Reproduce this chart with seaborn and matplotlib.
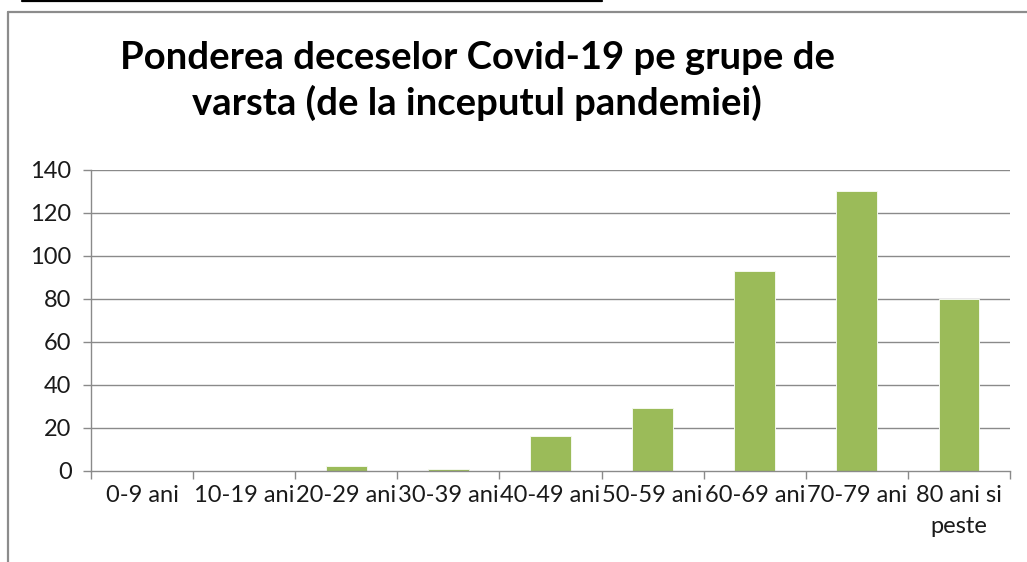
import matplotlib
matplotlib.use("Agg")
import matplotlib.pyplot as plt
from matplotlib.lines import Line2D
import seaborn as sns
import pandas as pd

categories = ["0-9 ani", "10-19 ani", "20-29 ani", "30-39 ani", "40-49 ani",
              "50-59 ani", "60-69 ani", "70-79 ani", "80 ani si\npeste"]
values = [0, 0, 2, 1, 16, 29, 93, 130, 80]
yticks = [0, 20, 40, 60, 80, 100, 120, 140]
title = "Ponderea deceselor Covid-19 pe grupe de\nvarsta (de la inceputul pandemiei)"

sns.set_theme(style="white")
plt.rcParams['font.family'] = ['Lato', 'DejaVu Sans']

W, H = 1027, 562
fig = plt.figure(figsize=(W / 100, H / 100), dpi=100)
fig.patch.set_facecolor("white")

ax = fig.add_axes([91 / W, (H - 470.7) / H, (1010 - 91) / W, 300.7 / H])
df = pd.DataFrame({"cat": categories, "val": values})
sns.barplot(data=df, x="cat", y="val", color="#9BBB59", width=0.4,
            edgecolor="#f4f8ee", linewidth=0.7, saturation=1, ax=ax, zorder=2)

ax.set_xlim(-0.5, len(categories) - 0.5)
ax.set_ylim(0, 140)
ax.set_yticks(yticks)
ax.set_yticklabels([str(v) for v in yticks], fontsize=17, color="#1a1a1a")
ax.set_xlabel("")
ax.set_ylabel("")
gc = "#8a8a8a"
for y in yticks[1:]:
    ax.axhline(y, color=gc, lw=1.0, zorder=1)
for s in ["top", "right"]:
    ax.spines[s].set_visible(False)
for s in ["left", "bottom"]:
    ax.spines[s].set_color(gc)
    ax.spines[s].set_linewidth(1.0)
    ax.spines[s].set_zorder(3)
ax.tick_params(axis="y", direction="out", length=6, width=1.0, color=gc, pad=8, left=True)
ax.set_xticks(range(len(categories)))
ax.set_xticklabels(categories, fontsize=17, color="#1a1a1a", linespacing=1.6,
                   va="top", ha="center")
ax.tick_params(axis="x", which="major", length=0, pad=10, bottom=True)
ax.set_xticks([i - 0.5 for i in range(len(categories) + 1)], minor=True)
ax.tick_params(axis="x", which="minor", direction="out", length=6, width=1.0, color=gc, bottom=True)

fig.text(477 / W, 1 - 41 / H, title, ha="center", va="top", fontsize=27.5,
         fontweight="bold", color="black", linespacing=1.32)

# chart frame (top and left edges visible)
fc = "#8c8c8c"
fig.add_artist(Line2D([8 / W, 1], [1 - 12 / H, 1 - 12 / H], color=fc, lw=1.6, transform=fig.transFigure))
fig.add_artist(Line2D([8 / W, 8 / W], [0, 1 - 12 / H], color=fc, lw=1.6, transform=fig.transFigure))
fig.add_artist(Line2D([22 / W, 602 / W], [1 - 1 / H, 1 - 1 / H], color="black", lw=1.6, transform=fig.transFigure))

fig.savefig("out.png", dpi=100, facecolor="white")
